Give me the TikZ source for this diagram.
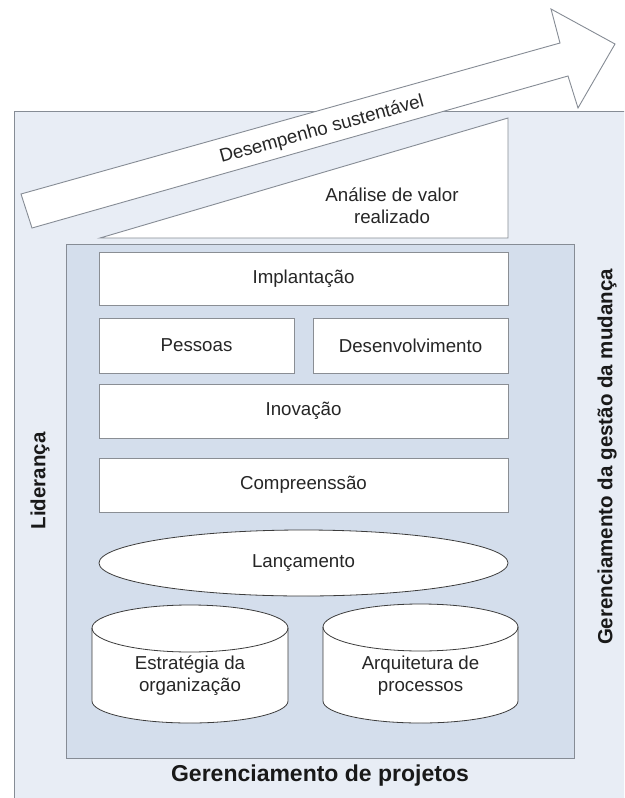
\documentclass[tikz,border=0pt]{standalone}
\usepackage{fontspec}
\setmainfont{Liberation Sans}
\usetikzlibrary{shapes.geometric}
\definecolor{outerfill}{HTML}{E8EDF5}
\definecolor{innerfill}{HTML}{D4DEEC}
\definecolor{frame}{HTML}{868C95}
\definecolor{boxline}{HTML}{8A8E94}
\definecolor{darkline}{HTML}{3C3C3C}
\tikzset{
  txt/.style={font=\fontsize{18.7}{22}\selectfont, text=black!85, align=center, inner sep=0pt},
  sidelabel/.style={font=\fontsize{20.5}{24}\selectfont\bfseries, text=black!90, inner sep=0pt},
  stagebox/.style={draw=boxline, fill=white, line width=1pt},
  roundshape/.style={draw=darkline, fill=white, line width=0.8pt},
}
\begin{document}
\begin{tikzpicture}[x=1pt,y=-1pt]
\useasboundingbox (0,0) rectangle (624,798);
\clip (0,0) rectangle (624,798);
\fill[white] (0,0) rectangle (624,798);

% outer frame
\draw[frame, fill=outerfill, line width=1pt] (14,111) rectangle (640,815);

% rising arrow
\draw[frame, fill=white, line width=0.9pt, line join=miter]
  (21,194) -- (560,43) -- (551,9) -- (615,44) -- (578,108) -- (568,76) -- (32,228) -- cycle;
\node[txt, rotate=15.5] (perf) at (322,130) {Desempenho sustentável};

% wedge
\draw[frame, fill=white, line width=0.9pt] (100,238) -- (508,118) -- (508,238) -- cycle;
\node[txt] (value) at (392,206) {Análise de valor\\realizado};

% inner frame
\draw[frame, fill=innerfill, line width=1pt] (66,244) rectangle (574,758);

% stage boxes
\draw[stagebox] (99,252) rectangle (508,305);
\node[txt] (impl) at (303.5,278.5) {Implantação};
\draw[stagebox] (99,318) rectangle (294,373);
\node[txt] (pess) at (196.5,345.5) {Pessoas};
\draw[stagebox] (313,318) rectangle (508,373);
\node[txt] (desv) at (410.5,345.5) {Desenvolvimento};
\draw[stagebox] (99,384) rectangle (508,438);
\node[txt] (inov) at (303.5,411) {Inovação};
\draw[stagebox] (99,458) rectangle (508,512);
\node[txt] (comp) at (303.5,485) {Compreenssão};

% launch ellipse
\draw[roundshape] (303.5,563) ellipse [x radius=204.5, y radius=33];
\node[txt] (lanc) at (303.5,563) {Lançamento};

% cylinders (y grows downward, so the lower half of an arc runs through 90 degrees)
\draw[roundshape] (92,628) -- (92,701) arc[start angle=180, end angle=0, x radius=98, y radius=22]
  -- (288,628) arc[start angle=0, end angle=-180, x radius=98, y radius=23] -- cycle;
\draw[roundshape, fill=none] (92,628) arc[start angle=180, end angle=0, x radius=98, y radius=24];
\node[txt] (estr) at (190,676) {Estratégia da\\organização};

\draw[roundshape] (323,627) -- (323,701) arc[start angle=180, end angle=0, x radius=97.5, y radius=22]
  -- (518,627) arc[start angle=0, end angle=-180, x radius=97.5, y radius=23] -- cycle;
\draw[roundshape, fill=none] (323,627) arc[start angle=180, end angle=0, x radius=97.5, y radius=24];
\node[txt] (arq) at (420.5,676) {Arquitetura de\\processos};

% frame labels
\node[sidelabel, rotate=90] (lid) at (40,481) {Liderança};
\node[sidelabel, rotate=90] (mud) at (607,457) {Gerenciamento da gestão da mudança};
\node[sidelabel, font=\fontsize{23}{27}\selectfont\bfseries] (proj) at (320,776) {Gerenciamento de projetos};
\end{tikzpicture}
\end{document}
